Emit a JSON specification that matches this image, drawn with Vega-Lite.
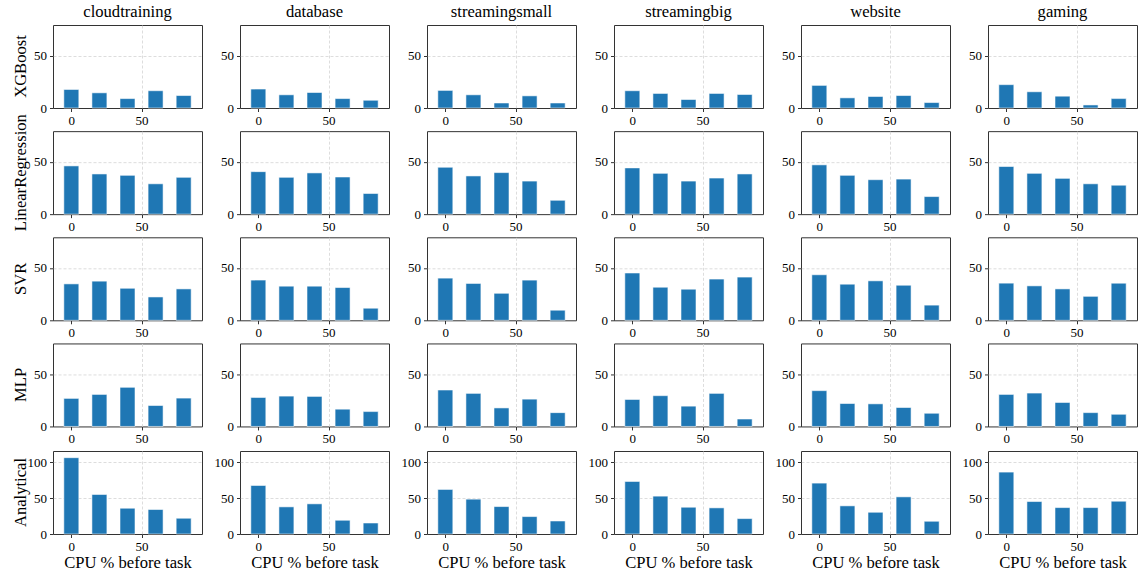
{
"$schema": "https://vega.github.io/schema/vega-lite/v6.json",
"background": "white",
"padding": {"left": 13, "top": 4, "right": 0, "bottom": 0},
"data": {"values": [
{"workload":"cloudtraining","model":"XGBoost","cpu":0,"value":17.7},
{"workload":"cloudtraining","model":"XGBoost","cpu":20,"value":14.5},
{"workload":"cloudtraining","model":"XGBoost","cpu":40,"value":9.0},
{"workload":"cloudtraining","model":"XGBoost","cpu":60,"value":16.5},
{"workload":"cloudtraining","model":"XGBoost","cpu":80,"value":11.9},
{"workload":"cloudtraining","model":"LinearRegression","cpu":0,"value":46.1},
{"workload":"cloudtraining","model":"LinearRegression","cpu":20,"value":38.4},
{"workload":"cloudtraining","model":"LinearRegression","cpu":40,"value":37.1},
{"workload":"cloudtraining","model":"LinearRegression","cpu":60,"value":29.0},
{"workload":"cloudtraining","model":"LinearRegression","cpu":80,"value":35.2},
{"workload":"cloudtraining","model":"SVR","cpu":0,"value":34.8},
{"workload":"cloudtraining","model":"SVR","cpu":20,"value":37.4},
{"workload":"cloudtraining","model":"SVR","cpu":40,"value":30.6},
{"workload":"cloudtraining","model":"SVR","cpu":60,"value":22.3},
{"workload":"cloudtraining","model":"SVR","cpu":80,"value":30.0},
{"workload":"cloudtraining","model":"MLP","cpu":0,"value":26.8},
{"workload":"cloudtraining","model":"MLP","cpu":20,"value":30.6},
{"workload":"cloudtraining","model":"MLP","cpu":40,"value":37.4},
{"workload":"cloudtraining","model":"MLP","cpu":60,"value":20.0},
{"workload":"cloudtraining","model":"MLP","cpu":80,"value":27.1},
{"workload":"cloudtraining","model":"Analytical","cpu":0,"value":106.0},
{"workload":"cloudtraining","model":"Analytical","cpu":20,"value":54.9},
{"workload":"cloudtraining","model":"Analytical","cpu":40,"value":35.8},
{"workload":"cloudtraining","model":"Analytical","cpu":60,"value":34.0},
{"workload":"cloudtraining","model":"Analytical","cpu":80,"value":21.9},
{"workload":"database","model":"XGBoost","cpu":0,"value":18.1},
{"workload":"database","model":"XGBoost","cpu":20,"value":12.6},
{"workload":"database","model":"XGBoost","cpu":40,"value":14.8},
{"workload":"database","model":"XGBoost","cpu":60,"value":9.0},
{"workload":"database","model":"XGBoost","cpu":80,"value":7.4},
{"workload":"database","model":"LinearRegression","cpu":0,"value":40.6},
{"workload":"database","model":"LinearRegression","cpu":20,"value":35.2},
{"workload":"database","model":"LinearRegression","cpu":40,"value":39.4},
{"workload":"database","model":"LinearRegression","cpu":60,"value":35.5},
{"workload":"database","model":"LinearRegression","cpu":80,"value":19.7},
{"workload":"database","model":"SVR","cpu":0,"value":38.4},
{"workload":"database","model":"SVR","cpu":20,"value":32.6},
{"workload":"database","model":"SVR","cpu":40,"value":32.6},
{"workload":"database","model":"SVR","cpu":60,"value":31.3},
{"workload":"database","model":"SVR","cpu":80,"value":11.6},
{"workload":"database","model":"MLP","cpu":0,"value":27.7},
{"workload":"database","model":"MLP","cpu":20,"value":29.0},
{"workload":"database","model":"MLP","cpu":40,"value":28.7},
{"workload":"database","model":"MLP","cpu":60,"value":16.5},
{"workload":"database","model":"MLP","cpu":80,"value":14.2},
{"workload":"database","model":"Analytical","cpu":0,"value":67.4},
{"workload":"database","model":"Analytical","cpu":20,"value":37.7},
{"workload":"database","model":"Analytical","cpu":40,"value":41.9},
{"workload":"database","model":"Analytical","cpu":60,"value":19.1},
{"workload":"database","model":"Analytical","cpu":80,"value":15.3},
{"workload":"streamingsmall","model":"XGBoost","cpu":0,"value":16.8},
{"workload":"streamingsmall","model":"XGBoost","cpu":20,"value":12.6},
{"workload":"streamingsmall","model":"XGBoost","cpu":40,"value":4.8},
{"workload":"streamingsmall","model":"XGBoost","cpu":60,"value":11.6},
{"workload":"streamingsmall","model":"XGBoost","cpu":80,"value":4.8},
{"workload":"streamingsmall","model":"LinearRegression","cpu":0,"value":44.8},
{"workload":"streamingsmall","model":"LinearRegression","cpu":20,"value":36.5},
{"workload":"streamingsmall","model":"LinearRegression","cpu":40,"value":39.7},
{"workload":"streamingsmall","model":"LinearRegression","cpu":60,"value":31.6},
{"workload":"streamingsmall","model":"LinearRegression","cpu":80,"value":13.2},
{"workload":"streamingsmall","model":"SVR","cpu":0,"value":40.3},
{"workload":"streamingsmall","model":"SVR","cpu":20,"value":35.2},
{"workload":"streamingsmall","model":"SVR","cpu":40,"value":25.8},
{"workload":"streamingsmall","model":"SVR","cpu":60,"value":38.4},
{"workload":"streamingsmall","model":"SVR","cpu":80,"value":9.7},
{"workload":"streamingsmall","model":"MLP","cpu":0,"value":34.8},
{"workload":"streamingsmall","model":"MLP","cpu":20,"value":31.6},
{"workload":"streamingsmall","model":"MLP","cpu":40,"value":17.7},
{"workload":"streamingsmall","model":"MLP","cpu":60,"value":26.1},
{"workload":"streamingsmall","model":"MLP","cpu":80,"value":13.2},
{"workload":"streamingsmall","model":"Analytical","cpu":0,"value":61.9},
{"workload":"streamingsmall","model":"Analytical","cpu":20,"value":48.4},
{"workload":"streamingsmall","model":"Analytical","cpu":40,"value":38.1},
{"workload":"streamingsmall","model":"Analytical","cpu":60,"value":24.2},
{"workload":"streamingsmall","model":"Analytical","cpu":80,"value":18.1},
{"workload":"streamingbig","model":"XGBoost","cpu":0,"value":16.5},
{"workload":"streamingbig","model":"XGBoost","cpu":20,"value":13.9},
{"workload":"streamingbig","model":"XGBoost","cpu":40,"value":8.1},
{"workload":"streamingbig","model":"XGBoost","cpu":60,"value":13.9},
{"workload":"streamingbig","model":"XGBoost","cpu":80,"value":12.9},
{"workload":"streamingbig","model":"LinearRegression","cpu":0,"value":44.2},
{"workload":"streamingbig","model":"LinearRegression","cpu":20,"value":39.0},
{"workload":"streamingbig","model":"LinearRegression","cpu":40,"value":31.6},
{"workload":"streamingbig","model":"LinearRegression","cpu":60,"value":34.5},
{"workload":"streamingbig","model":"LinearRegression","cpu":80,"value":38.4},
{"workload":"streamingbig","model":"SVR","cpu":0,"value":45.2},
{"workload":"streamingbig","model":"SVR","cpu":20,"value":31.6},
{"workload":"streamingbig","model":"SVR","cpu":40,"value":29.7},
{"workload":"streamingbig","model":"SVR","cpu":60,"value":39.4},
{"workload":"streamingbig","model":"SVR","cpu":80,"value":41.3},
{"workload":"streamingbig","model":"MLP","cpu":0,"value":25.8},
{"workload":"streamingbig","model":"MLP","cpu":20,"value":29.4},
{"workload":"streamingbig","model":"MLP","cpu":40,"value":19.4},
{"workload":"streamingbig","model":"MLP","cpu":60,"value":31.6},
{"workload":"streamingbig","model":"MLP","cpu":80,"value":7.1},
{"workload":"streamingbig","model":"Analytical","cpu":0,"value":73.0},
{"workload":"streamingbig","model":"Analytical","cpu":20,"value":52.6},
{"workload":"streamingbig","model":"Analytical","cpu":40,"value":37.2},
{"workload":"streamingbig","model":"Analytical","cpu":60,"value":36.3},
{"workload":"streamingbig","model":"Analytical","cpu":80,"value":21.4},
{"workload":"website","model":"XGBoost","cpu":0,"value":21.6},
{"workload":"website","model":"XGBoost","cpu":20,"value":9.7},
{"workload":"website","model":"XGBoost","cpu":40,"value":11.0},
{"workload":"website","model":"XGBoost","cpu":60,"value":11.9},
{"workload":"website","model":"XGBoost","cpu":80,"value":5.2},
{"workload":"website","model":"LinearRegression","cpu":0,"value":47.1},
{"workload":"website","model":"LinearRegression","cpu":20,"value":37.1},
{"workload":"website","model":"LinearRegression","cpu":40,"value":32.9},
{"workload":"website","model":"LinearRegression","cpu":60,"value":33.5},
{"workload":"website","model":"LinearRegression","cpu":80,"value":16.8},
{"workload":"website","model":"SVR","cpu":0,"value":43.5},
{"workload":"website","model":"SVR","cpu":20,"value":34.5},
{"workload":"website","model":"SVR","cpu":40,"value":37.7},
{"workload":"website","model":"SVR","cpu":60,"value":33.5},
{"workload":"website","model":"SVR","cpu":80,"value":14.5},
{"workload":"website","model":"MLP","cpu":0,"value":34.2},
{"workload":"website","model":"MLP","cpu":20,"value":21.9},
{"workload":"website","model":"MLP","cpu":40,"value":21.6},
{"workload":"website","model":"MLP","cpu":60,"value":18.1},
{"workload":"website","model":"MLP","cpu":80,"value":12.6},
{"workload":"website","model":"Analytical","cpu":0,"value":70.7},
{"workload":"website","model":"Analytical","cpu":20,"value":39.1},
{"workload":"website","model":"Analytical","cpu":40,"value":30.2},
{"workload":"website","model":"Analytical","cpu":60,"value":51.6},
{"workload":"website","model":"Analytical","cpu":80,"value":17.7},
{"workload":"gaming","model":"XGBoost","cpu":0,"value":22.3},
{"workload":"gaming","model":"XGBoost","cpu":20,"value":15.5},
{"workload":"gaming","model":"XGBoost","cpu":40,"value":11.3},
{"workload":"gaming","model":"XGBoost","cpu":60,"value":2.9},
{"workload":"gaming","model":"XGBoost","cpu":80,"value":9.0},
{"workload":"gaming","model":"LinearRegression","cpu":0,"value":45.5},
{"workload":"gaming","model":"LinearRegression","cpu":20,"value":39.0},
{"workload":"gaming","model":"LinearRegression","cpu":40,"value":34.2},
{"workload":"gaming","model":"LinearRegression","cpu":60,"value":29.0},
{"workload":"gaming","model":"LinearRegression","cpu":80,"value":27.7},
{"workload":"gaming","model":"SVR","cpu":0,"value":35.5},
{"workload":"gaming","model":"SVR","cpu":20,"value":32.9},
{"workload":"gaming","model":"SVR","cpu":40,"value":30.0},
{"workload":"gaming","model":"SVR","cpu":60,"value":22.9},
{"workload":"gaming","model":"SVR","cpu":80,"value":35.5},
{"workload":"gaming","model":"MLP","cpu":0,"value":30.6},
{"workload":"gaming","model":"MLP","cpu":20,"value":31.9},
{"workload":"gaming","model":"MLP","cpu":40,"value":22.9},
{"workload":"gaming","model":"MLP","cpu":60,"value":13.2},
{"workload":"gaming","model":"MLP","cpu":80,"value":11.6},
{"workload":"gaming","model":"Analytical","cpu":0,"value":86.0},
{"workload":"gaming","model":"Analytical","cpu":20,"value":45.1},
{"workload":"gaming","model":"Analytical","cpu":40,"value":36.7},
{"workload":"gaming","model":"Analytical","cpu":60,"value":36.7},
{"workload":"gaming","model":"Analytical","cpu":80,"value":45.6}
]},
"config": {
  "font": "Liberation Serif",
  "view": {"stroke": "#333333", "strokeWidth": 1},
  "axis": {"labelFont": "Liberation Serif", "labelFontSize": 13, "labelColor": "#000000", "tickColor": "#333333", "tickSize": 3.5, "labelPadding": 3, "domain": false, "grid": true, "gridColor": "#d4d4d4", "gridDash": [3, 2], "gridWidth": 0.8, "gridOpacity": {"condition": {"test": "datum.value === 0", "value": 0}, "value": 1}, "titleFont": "Liberation Serif", "titleFontSize": 16.6, "titleFontWeight": "normal", "titleColor": "#000000"},
  "header": {"labelFont": "Liberation Serif", "labelFontSize": 16.6, "labelColor": "#000000"}
},
"spacing": 3,
"vconcat": [
  {
    "transform": [{"filter": "datum.model !== 'Analytical'"}],
    "facet": {
      "row": {"field": "model", "type": "nominal", "sort": ["XGBoost", "LinearRegression", "SVR", "MLP"], "header": {"title": null, "labelAngle": -90, "labelOrient": "left", "labelPadding": 15, "labelAlign": "center"}},
      "column": {"field": "workload", "type": "nominal", "sort": ["cloudtraining", "database", "streamingsmall", "streamingbig", "website", "gaming"], "header": {"title": null, "labelOrient": "top", "labelPadding": 4}}
    },
    "spacing": {"row": 23.15, "column": 38},
    "bounds": "flush",
    "resolve": {"axis": {"x": "independent", "y": "independent"}},
    "spec": {
      "width": 149, "height": 83,
      "mark": {"type": "bar", "width": 15, "color": "#1f77b4", "stroke": "#ffffff", "strokeOpacity": 0.55, "strokeWidth": 1},
      "encoding": {
        "x": {"field": "cpu", "type": "quantitative", "scale": {"domain": [-9.5, 89.5], "nice": false, "zero": false}, "axis": {"values": [0, 50], "title": null}},
        "y": {"field": "value", "type": "quantitative", "scale": {"domain": [0, 79.3], "nice": false}, "axis": {"values": [0, 50], "title": null}}
      }
    }
  },
  {
    "transform": [{"filter": "datum.model === 'Analytical'"}],
    "facet": {
      "row": {"field": "model", "type": "nominal", "header": {"title": null, "labelAngle": -90, "labelOrient": "left", "labelPadding": 15, "labelAlign": "center"}},
      "column": {"field": "workload", "type": "nominal", "sort": ["cloudtraining", "database", "streamingsmall", "streamingbig", "website", "gaming"], "header": {"title": null, "labels": false}}
    },
    "spacing": {"row": 23.15, "column": 38},
    "bounds": "flush",
    "resolve": {"axis": {"x": "independent", "y": "independent"}},
    "spec": {
      "width": 149, "height": 83,
      "mark": {"type": "bar", "width": 15, "color": "#1f77b4", "stroke": "#ffffff", "strokeOpacity": 0.55, "strokeWidth": 1},
      "encoding": {
        "x": {"field": "cpu", "type": "quantitative", "scale": {"domain": [-9.5, 89.5], "nice": false, "zero": false}, "axis": {"values": [0, 50], "title": "CPU % before task", "titlePadding": 1}},
        "y": {"field": "value", "type": "quantitative", "scale": {"domain": [0, 115.3], "nice": false}, "axis": {"values": [0, 50, 100], "title": null}}
      }
    }
  }
]
}
